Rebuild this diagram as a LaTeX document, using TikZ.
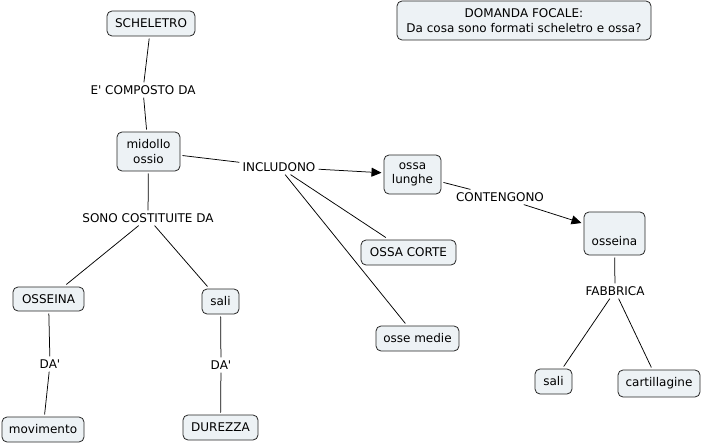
\documentclass[tikz,border=0pt]{standalone}
\usepackage{fontspec}
\setmainfont{DejaVu Sans}
\usetikzlibrary{arrows.meta}
\definecolor{boxfill}{HTML}{EDF2F5}
\newcommand{\sq}{\XeTeXglyph\XeTeXcharglyph"0027\relax}
\begin{document}
\begin{tikzpicture}[x=1pt,y=-1pt,
  font=\fontsize{12}{14.5}\selectfont,
  concept/.style={draw=black!85, fill=boxfill, rounded corners=5pt, line width=0.8pt,
    inner sep=0pt, outer sep=2.5pt, align=center},
  lbl/.style={inner sep=3pt, text height=8.8pt, text depth=0pt},
  conn/.style={draw=black, line width=0.75pt},
  arr/.style={conn, -{Triangle[length=10pt,width=9pt]}}]
\useasboundingbox (0,0) rectangle (702,444);

% concepts
\node[concept, minimum width=88, minimum height=25] (schel) at (151,23.5) {SCHELETRO};
\node[concept, minimum width=254, minimum height=39] (focal) at (524,20.5) {DOMANDA FOCALE:\\Da cosa sono formati scheletro e ossa?};
\node[concept, minimum width=63, minimum height=39] (midollo) at (148.5,151.5) {midollo\\ossio};
\node[concept, minimum width=71, minimum height=24] (osseinaL) at (48.5,299) {OSSEINA};
\node[concept, minimum width=37, minimum height=25] (saliL) at (220.5,301.5) {sali};
\node[concept, minimum width=82, minimum height=25] (movim) at (43,429.5) {movimento};
\node[concept, minimum width=75, minimum height=25] (durezza) at (220.5,427.5) {DUREZZA};
\node[concept, minimum width=57, minimum height=39] (lunghe) at (412.5,174.5) {ossa\\lunghe};
\node[concept, minimum width=95, minimum height=25] (corte) at (408.5,252.5) {OSSA CORTE};
\node[concept, minimum width=83, minimum height=25] (medie) at (417.5,338.5) {osse medie};
\node[concept, minimum width=61, minimum height=43] (osseinaR) at (614.5,233.5) {\strut\\osseina};
\node[concept, minimum width=37, minimum height=25] (saliR) at (553.5,381.5) {sali};
\node[concept, minimum width=82, minimum height=27] (cart) at (659,383.5) {cartillagine};

% linking phrases
\node[lbl] (composto) at (143,90) {E\sq{} COMPOSTO DA};
\node[lbl] (includono) at (279,167) {INCLUDONO};
\node[lbl] (sono) at (148,218) {SONO COSTITUITE DA};
\node[lbl] (daL) at (50,364) {DA\sq};
\node[lbl] (daR) at (221,365) {DA\sq};
\node[lbl] (contengono) at (500,197) {CONTENGONO};
\node[lbl] (fabbrica) at (615,291) {FABBRICA};

% connectors
\draw[conn] (schel) -- (composto);
\draw[conn] (composto) -- (midollo);
\draw[conn] (midollo) -- (includono);
\draw[arr] (includono) -- (lunghe);
\draw[conn] (includono) -- (corte);
\draw[conn] (includono) -- (medie);
\draw[conn] (midollo) -- (sono);
\draw[conn] (sono) -- (osseinaL);
\draw[conn] (sono) -- (saliL);
\draw[conn] (osseinaL) -- (daL);
\draw[conn] (daL) -- (movim);
\draw[conn] (saliL) -- (daR);
\draw[conn] (daR) -- (durezza);
\draw[conn] (lunghe) -- (contengono);
\draw[arr] (contengono) -- (osseinaR);
\draw[conn] (osseinaR) -- (fabbrica);
\draw[conn] (fabbrica) -- (saliR);
\draw[conn] (fabbrica) -- (cart);
\end{tikzpicture}
\end{document}
